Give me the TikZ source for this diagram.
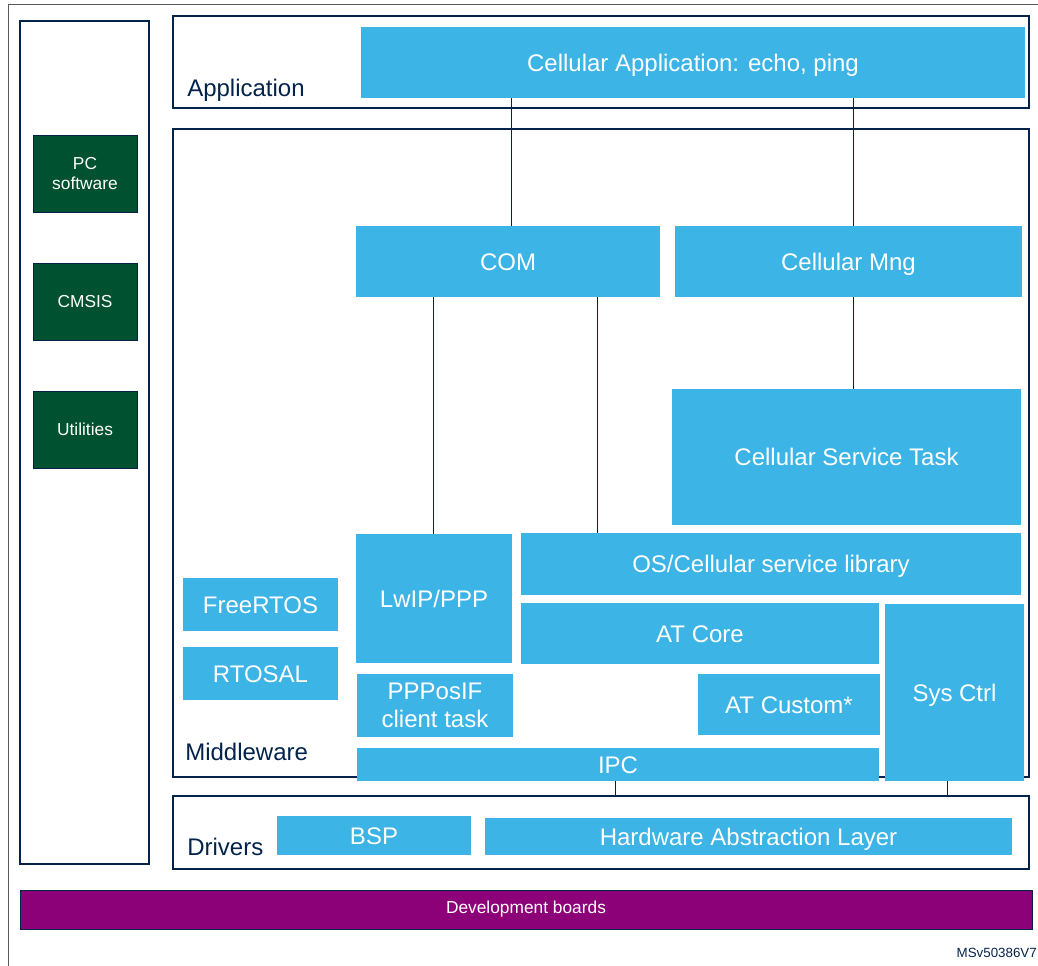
\documentclass[tikz,border=0pt]{standalone}
\usepackage{fontspec}
\setmainfont{Liberation Sans}
\definecolor{stblue}{HTML}{3CB4E6}
\definecolor{stnavy}{HTML}{03234B}
\definecolor{stgreen}{HTML}{00512F}
\definecolor{stpurple}{HTML}{8C0078}

\begin{document}
\begin{tikzpicture}[x=0.75pt, y=-0.75pt,
        blk/.style={fill=stblue, text=white, inner sep=0pt, align=center, text height=13pt, text depth=0pt, font=\fontsize{18}{21}\selectfont},
        grn/.style={fill=stgreen, draw=stnavy, line width=0.5pt, text=white, inner sep=0pt, align=center, font=\fontsize{13}{15}\selectfont},
        layer/.style={draw=stnavy, line width=1.5pt, inner sep=0pt},
        lbl/.style={text=stnavy, anchor=base west, inner sep=0pt, font=\fontsize{18}{21}\selectfont},
        link/.style={draw=stnavy, line width=0.6pt}]
        % box from (x1,y1) to (x2,y2) in pixel units
        \def\blk(#1)[#2](#3,#4)(#5,#6)#7{\node[#2, minimum width={(#5-#3)*0.75pt}, minimum height={(#6-#4)*0.75pt}] (#1) at ({(#3+#5)/2},{(#4+#6)/2}) {#7};}
        \useasboundingbox (0,0) rectangle (1038,966);
        \draw[black!65, line width=0.6pt] (1038,4) -- (8,4) -- (8,966);
        % side column
        \blk(side)[draw=stnavy, line width=0.8pt, inner sep=0pt](20,21)(149,864){}
        \blk(pcsw)[grn](33,135)(137,212){PC\\software}
        \blk(cmsis)[grn](33,263)(137,340){CMSIS}
        \blk(util)[grn](33,391)(137,468){Utilities}
        % layers
        \blk(app)[layer](173,16)(1029,108){}
        \blk(mid)[layer](173,129)(1029,777){}
        \blk(drv)[layer](173,796)(1029,869){}
        \node[lbl] (applbl) at (187,97) {Application};
        \node[lbl] (midlbl) at (185,760) {Middleware};
        \node[lbl] (drvlbl) at (187,855) {Drivers};
        % application
        \blk(capp)[blk](361,27)(1025,98){Cellular Application: echo, ping}
        % middleware
        \blk(com)[blk](356,226)(660,297){COM}
        \blk(cmng)[blk](675,226)(1022,297){Cellular Mng}
        \blk(cst)[blk](672,389)(1021,525){Cellular Service Task}
        \blk(lwip)[blk](356,534)(512,663){LwIP/PPP}
        \blk(oslib)[blk](521,533)(1021,595){OS/Cellular service library}
        \blk(atcore)[blk](521,603)(879,664){AT Core}
        \blk(sysctrl)[blk](885,604)(1024,781){Sys Ctrl}
        \blk(atcust)[blk](698,674)(880,735){AT Custom*}
        \blk(pppos)[blk, text height=, text depth=](357,674)(513,737){PPPosIF\\client task}
        \blk(ipc)[blk](357,748)(879,781){IPC}
        \blk(frtos)[blk](183,578)(338,631){FreeRTOS}
        \blk(rtosal)[blk](183,647)(338,700){RTOSAL}
        % drivers
        \blk(bsp)[blk](277,816)(471,855){BSP}
        \blk(hal)[blk](485,818)(1012,855){Hardware Abstraction Layer}
        % boards
        \blk(boards)[grn, fill=stpurple](20,890)(1032,929){Development boards}
        \node[anchor=east, inner sep=0pt, font=\fontsize{10}{12}\selectfont, text=stnavy] (ref) at (1037,953) {MSv50386V7};
        % links
        \draw[link] (capp.south -| 511,0) -- (com.north -| 511,0);
        \draw[link] (capp.south -| 853,0) -- (cmng.north -| 853,0);
        \draw[link] (com.south -| 433,0) -- (lwip.north -| 433,0);
        \draw[link] (com.south -| 597,0) -- (oslib.north -| 597,0);
        \draw[link] (cmng.south -| 853,0) -- (cst.north -| 853,0);
        \draw[link] (ipc.south -| 615,0) -- (drv.north -| 615,0);
        \draw[link] (sysctrl.south -| 947,0) -- (drv.north -| 947,0);
\end{tikzpicture}
\end{document}
